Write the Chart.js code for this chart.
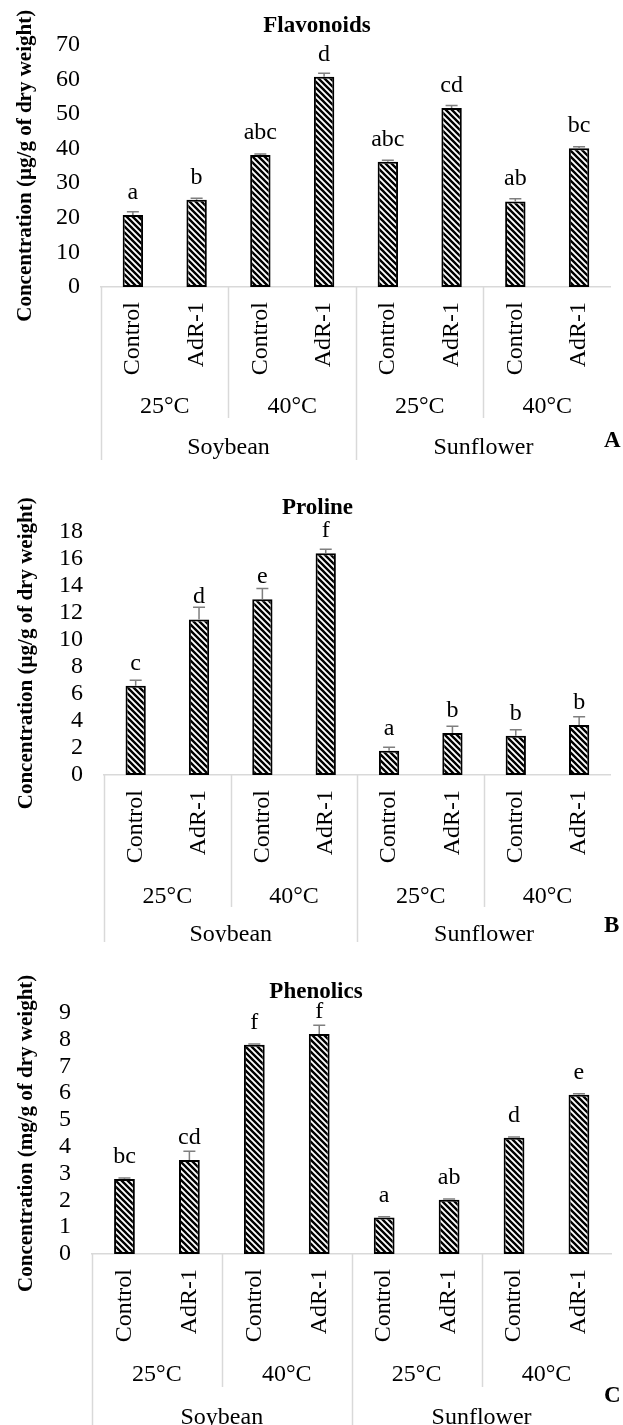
<!DOCTYPE html>
<html>
<head>
<meta charset="utf-8">
<script src="https://cdn.jsdelivr.net/npm/chart.js@4.4.0/dist/chart.umd.min.js"></script>
<style>
  html, body { margin: 0; padding: 0; background: #fff; }
  body { width: 623px; height: 1425px; position: relative; overflow: hidden; }
  .panel { position: absolute; left: 0; width: 623px; }
  .tag { position: absolute; font: bold 23px "Liberation Serif", "Times New Roman", serif; line-height: 26px; color: #000; }
</style>
</head>
<body>
<div class="panel" style="top:0px"><canvas id="chart-a" width="623" height="460"></canvas></div>
<div class="panel" style="top:470px"><canvas id="chart-b" width="623" height="472"></canvas></div>
<div class="panel" style="top:945px"><canvas id="chart-c" width="623" height="480"></canvas></div>
<div class="tag" style="left:604px;top:427px">A</div>
<div class="tag" style="left:604px;top:912px">B</div>
<div class="tag" style="left:604px;top:1382px">C</div>

<script>
// categories
const treatments = ['Control', 'AdR-1', 'Control', 'AdR-1', 'Control', 'AdR-1', 'Control', 'AdR-1'];
const temperatures = ['25°C', '40°C', '25°C', '40°C'];
const crops = ['Soybean', 'Sunflower'];

// A - flavonoids (µg/g)
const flavonoidValues = [20.8, 25.2, 38.1, 60.7, 36.2, 51.7, 24.7, 40.1];
const flavonoidErrors = [0.9, 0.4, 0.3, 1.0, 0.4, 0.7, 0.8, 0.4];
const flavonoidLetters = ['a', 'b', 'abc', 'd', 'abc', 'cd', 'ab', 'bc'];

// B - proline (µg/g)
const prolineValues = [6.6, 11.5, 13.0, 16.4, 1.8, 3.1, 2.9, 3.7];
const prolineErrors = [0.4, 0.9, 0.8, 0.3, 0.25, 0.5, 0.45, 0.6];
const prolineLetters = ['c', 'd', 'e', 'f', 'a', 'b', 'b', 'b'];

// C - phenolics (mg/g)
const phenolicValues = [2.8, 3.5, 7.8, 8.2, 1.36, 2.02, 4.33, 5.94];
const phenolicErrors = [0.03, 0.33, 0.03, 0.33, 0.03, 0.03, 0.03, 0.03];
const phenolicLetters = ['bc', 'cd', 'f', 'f', 'a', 'ab', 'd', 'e'];

const FONT = '"Liberation Serif", "Times New Roman", serif';

function makeHatch() {
    const c = document.createElement('canvas')
    c.width = 6
    c.height = 6
    const g = c.getContext('2d')
    g.fillStyle = '#fff'
    g.fillRect(0, 0, 6, 6)
    g.strokeStyle = '#000'
    g.lineWidth = 2.4
    g.beginPath()
    for (const k of [-6, 0, 6]) {
        g.moveTo(k - 1, -1)
        g.lineTo(k + 7, 7)
    }
    g.stroke()
    return g.createPattern(c, 'repeat')
}

// error bars and significance letters above each bar
const barMarks = {
    id: 'barMarks',
    afterDatasetsDraw(chart, args, opts) {
        const { ctx } = chart
        const y = chart.scales.y
        const values = chart.data.datasets[0].data
        ctx.save()
        chart.getDatasetMeta(0).data.forEach((bar, i) => {
            const top = y.getPixelForValue(values[i] + opts.errors[i])
            ctx.strokeStyle = '#7f7f7f'
            ctx.lineWidth = 1.5
            ctx.beginPath()
            ctx.moveTo(bar.x, bar.y)
            ctx.lineTo(bar.x, top)
            ctx.moveTo(bar.x - 6, top)
            ctx.lineTo(bar.x + 6, top)
            ctx.stroke()

            ctx.fillStyle = '#000'
            ctx.font = '24px ' + FONT
            ctx.textAlign = 'center'
            ctx.textBaseline = 'alphabetic'
            ctx.fillText(opts.letters[i], bar.x, bar.y - 16)
        })
        ctx.restore()
    }
};

// grey separators of the grouped category axis
const groupLines = {
    id: 'groupLines',
    afterDraw(chart) {
        const { ctx } = chart
        const { x, x2, x3 } = chart.scales
        const n = treatments.length
        const perTemp = n / temperatures.length
        const perCrop = n / crops.length
        const edge = i => i === 0 ? x.left : (x.getPixelForValue(i - 1) + x.getPixelForValue(i)) / 2
        ctx.save()
        ctx.strokeStyle = '#d9d9d9'
        ctx.lineWidth = 1.5
        ctx.beginPath()
        for (let i = 0; i < n; i += perTemp) {
            const px = Math.round(edge(i)) + 0.5
            const bottom = i % perCrop === 0 ? x3.bottom : x2.bottom
            ctx.moveTo(px, x.top)
            ctx.lineTo(px, bottom)
        }
        ctx.stroke()
        ctx.restore()
    }
};

function drawPanel(id, title, values, errors, letters, yTitle, yMax, yStep, geo) {
    const tickFont = { family: FONT, size: 24 }
    new Chart(document.getElementById(id), {
        type: 'bar',
        data: {
            labels: treatments,
            datasets: [{
                data: values,
                backgroundColor: makeHatch(),
                borderColor: '#000',
                borderWidth: 2,
                borderSkipped: false,
                barPercentage: 0.32,
                categoryPercentage: 1
            }]
        },
        options: {
            responsive: false,
            animation: false,
            layout: { padding: { left: 13, right: geo.right, top: 0, bottom: 0 } },
            plugins: {
                legend: { display: false },
                tooltip: { enabled: false },
                title: {
                    display: true,
                    text: title,
                    color: '#000',
                    font: { family: FONT, size: 23, weight: 'bold' },
                    padding: { top: geo.titleTop, bottom: geo.titleBottom }
                },
                barMarks: { errors: errors, letters: letters }
            },
            scales: {
                x: {
                    weight: 0,
                    grid: { display: false, drawTicks: false },
                    border: { display: true, color: '#d9d9d9', width: 1.5 },
                    ticks: { autoSkip: false, minRotation: 90, maxRotation: 90, padding: 15, color: '#000', font: tickFont },
                    afterFit: s => { s.height = geo.xH }
                },
                x2: {
                    type: 'category',
                    labels: temperatures,
                    position: 'bottom',
                    weight: 1,
                    offset: true,
                    grid: { display: false, drawTicks: false },
                    border: { display: false },
                    ticks: { autoSkip: false, padding: 12, color: '#000', font: tickFont },
                    afterFit: s => { s.height = geo.x2H }
                },
                x3: {
                    type: 'category',
                    labels: crops,
                    position: 'bottom',
                    weight: 2,
                    offset: true,
                    grid: { display: false, drawTicks: false },
                    border: { display: false },
                    ticks: { autoSkip: false, padding: geo.x3Pad, color: '#000', font: tickFont },
                    afterFit: s => { s.height = geo.x3H }
                },
                y: {
                    min: 0,
                    max: yMax,
                    grid: { display: false, drawTicks: false },
                    border: { display: false },
                    ticks: { autoSkip: false, stepSize: yStep, padding: 21, color: '#000', font: tickFont },
                    title: {
                        display: true,
                        text: yTitle,
                        color: '#000',
                        font: { family: FONT, size: 21, weight: 'bold' },
                        padding: { top: geo.yTitlePad, bottom: 0 }
                    },
                    afterFit: s => { s.width = geo.yW }
                }
            }
        },
        plugins: [barMarks, groupLines]
    });
}

drawPanel('chart-a', 'Flavonoids', flavonoidValues, flavonoidErrors, flavonoidLetters,
    'Concentration (µg/g of dry weight)', 70, 10,
    { right: 2, titleTop: 12, titleBottom: 5, xH: 93, x2H: 38, x3H: 42, x3Pad: 15, yW: 88, yTitlePad: 0 })

drawPanel('chart-b', 'Proline', prolineValues, prolineErrors, prolineLetters,
    'Concentration (µg/g of dry weight)', 18, 2,
    { right: 1, titleTop: 24, titleBottom: 10, xH: 95, x2H: 37, x3H: 35, x3Pad: 13, yW: 91, yTitlePad: 1 })

drawPanel('chart-c', 'Phenolics', phenolicValues, phenolicErrors, phenolicLetters,
    'Concentration (mg/g of dry weight)', 9, 1,
    { right: 4, titleTop: 33, titleBottom: 7, xH: 94, x2H: 39, x3H: 38, x3Pad: 16, yW: 79, yTitlePad: 1 })
</script>
</body>
</html>
